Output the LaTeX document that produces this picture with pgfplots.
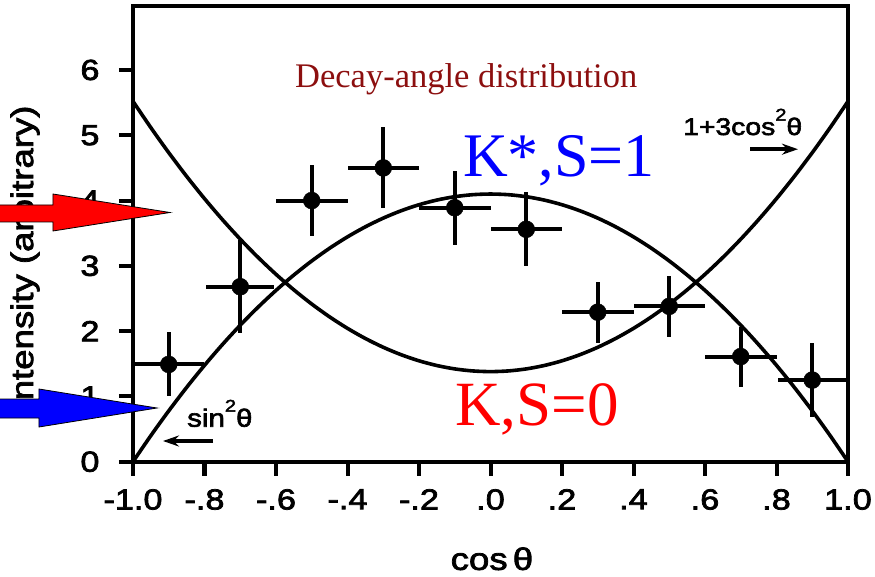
\documentclass[border=0pt]{standalone}
\usepackage{fontspec}
\usepackage{pgfplots}
\pgfplotsset{compat=1.18}
\usetikzlibrary{arrows.meta}
\setmainfont{Liberation Sans}
\newfontfamily\scanfont[FakeStretch=1.18,FakeBold=2.5]{Liberation Sans}
\newfontfamily\serif{Liberation Serif}
\definecolor{darkred}{RGB}{140,15,15}
\begin{document}
\begin{tikzpicture}[x=1pt,y=1pt]
\begin{axis}[
 at={(0,0)}, anchor=south west,
 scale only axis, width=715pt, height=455.7pt,
 xmin=-1, xmax=1, ymin=0, ymax=6.98,
 xtick={-1,-0.8,-0.6,-0.4,-0.2,0,0.2,0.4,0.6,0.8,1},
 xticklabels={-1.0,-.8,-.6,-.4,-.2,.0,.2,.4,.6,.8,1.0},
 ytick={0,1,2,3,4,5,6},
 yticklabels={0,1,2,3,4,5,6},
 tick pos=left, tick align=outside,
 major tick length=14pt,
 axis line style={line width=4.2pt},
 every tick/.style={black, line width=4pt},
 ticklabel style={font=\scanfont\fontsize{29}{31}\selectfont},
 xticklabel style={yshift=-10pt},
 yticklabel style={xshift=-16pt},
 xlabel={cos\,θ}, ylabel={Intensity (arbitrary)},
 label style={font=\scanfont\fontsize{31}{33}\selectfont},
 xlabel style={at={(axis description cs:0.502,-0.2130)}, anchor=center},
 ylabel style={at={(axis description cs:-0.151,0.447)}, anchor=center},
]
% sin^2 theta curve
\addplot[black, line width=3.6pt, smooth] coordinates {
(-1,0) (-0.95,0.39975) (-0.9,0.779) (-0.85,1.13775) (-0.8,1.476) (-0.75,1.79375)
(-0.7,2.091) (-0.65,2.36775) (-0.6,2.624) (-0.55,2.85975) (-0.5,3.075) (-0.45,3.26975)
(-0.4,3.444) (-0.35,3.59775) (-0.3,3.731) (-0.25,3.84375) (-0.2,3.936) (-0.15,4.00775)
(-0.1,4.059) (-0.05,4.08975) (0,4.1) (0.05,4.08975) (0.1,4.059) (0.15,4.00775)
(0.2,3.936) (0.25,3.84375) (0.3,3.731) (0.35,3.59775) (0.4,3.444) (0.45,3.26975)
(0.5,3.075) (0.55,2.85975) (0.6,2.624) (0.65,2.36775) (0.7,2.091) (0.75,1.79375)
(0.8,1.476) (0.85,1.13775) (0.9,0.779) (0.95,0.39975) (1,0)
};
% 1+3cos^2 theta curve
\addplot[black, line width=3.6pt, smooth] coordinates {
(-1,5.52) (-0.95,5.11635) (-0.9,4.7334) (-0.85,4.37115) (-0.8,4.0296) (-0.75,3.70875)
(-0.7,3.4086) (-0.65,3.12915) (-0.6,2.8704) (-0.55,2.63235) (-0.5,2.415) (-0.45,2.21835)
(-0.4,2.0424) (-0.35,1.88715) (-0.3,1.7526) (-0.25,1.63875) (-0.2,1.5456) (-0.15,1.47315)
(-0.1,1.4214) (-0.05,1.39035) (0,1.38) (0.05,1.39035) (0.1,1.4214) (0.15,1.47315)
(0.2,1.5456) (0.25,1.63875) (0.3,1.7526) (0.35,1.88715) (0.4,2.0424) (0.45,2.21835)
(0.5,2.415) (0.55,2.63235) (0.6,2.8704) (0.65,3.12915) (0.7,3.4086) (0.75,3.70875)
(0.8,4.0296) (0.85,4.37115) (0.9,4.7334) (0.95,5.11635) (1,5.52)
};
% data with error bars
\addplot[black, only marks, mark=*, mark size=8.5pt,
  error bars/.cd, x dir=both, x explicit, y dir=both, y explicit,
  error bar style={line width=4pt, black}, error mark=none]
coordinates {
(-0.9,1.49) +- (0.1,0.49)
(-0.7,2.68) +- (0.095,0.71)
(-0.5,4.0) +- (0.1,0.55)
(-0.3,4.5) +- (0.1,0.62)
(-0.1,3.89) +- (0.1,0.57)
(0.1,3.56) +- (0.1,0.57)
(0.3,2.29) +- (0.1,0.47)
(0.5,2.38) +- (0.1,0.47)
(0.7,1.61) +- (0.1,0.46)
(0.9,1.25) +- (0.095,0.57)
};
\end{axis}
% annotations (pt relative to lower-left of plot area)
\node[anchor=base west, inner sep=0, text=darkred, font=\serif\fontsize{34.5}{36}\selectfont] at (162,374.4) {Decay-angle distribution};
\node[anchor=base west, inner sep=0, text=blue, font=\serif\fontsize{62}{64}\selectfont] at (330,284.7) {K*,S=1};
\node[anchor=base west, inner sep=0, text=red, font=\serif\fontsize{63}{65}\selectfont] at (322,36.7) {K,S=0};
\node[anchor=base west, inner sep=0, font=\scanfont\fontsize{24}{26}\selectfont] at (550,326.7) {1+3cos\raisebox{0.6em}{\fontsize{17}{17}\selectfont 2}θ};
\node[anchor=base west, inner sep=0, font=\scanfont\fontsize{25}{27}\selectfont] at (54,35) {sin\raisebox{0.6em}{\fontsize{17}{17}\selectfont 2}θ};
\draw[line width=3.5pt, -{Stealth[length=16pt,width=11pt]}] (617,312.5) -- (665,312.5);
\draw[line width=3.5pt, -{Stealth[length=16pt,width=11pt]}] (80,20.7) -- (30,20.7);
% big arrows
\draw[line width=0.8pt, fill=red] (-135,256.7) -- (-80,256.7) -- (-80,267.7) -- (37,249.2) -- (-80,230.7) -- (-80,239.7) -- (-135,239.7) -- cycle;
\draw[line width=0.8pt, fill=blue] (-135,62.7) -- (-94,62.7) -- (-94,72.7) -- (24,53.7) -- (-94,34.7) -- (-94,43.7) -- (-135,43.7) -- cycle;
\pgfresetboundingbox
\path[use as bounding box] (-133,-114.3) rectangle (742,461.7);
\end{tikzpicture}
\end{document}
